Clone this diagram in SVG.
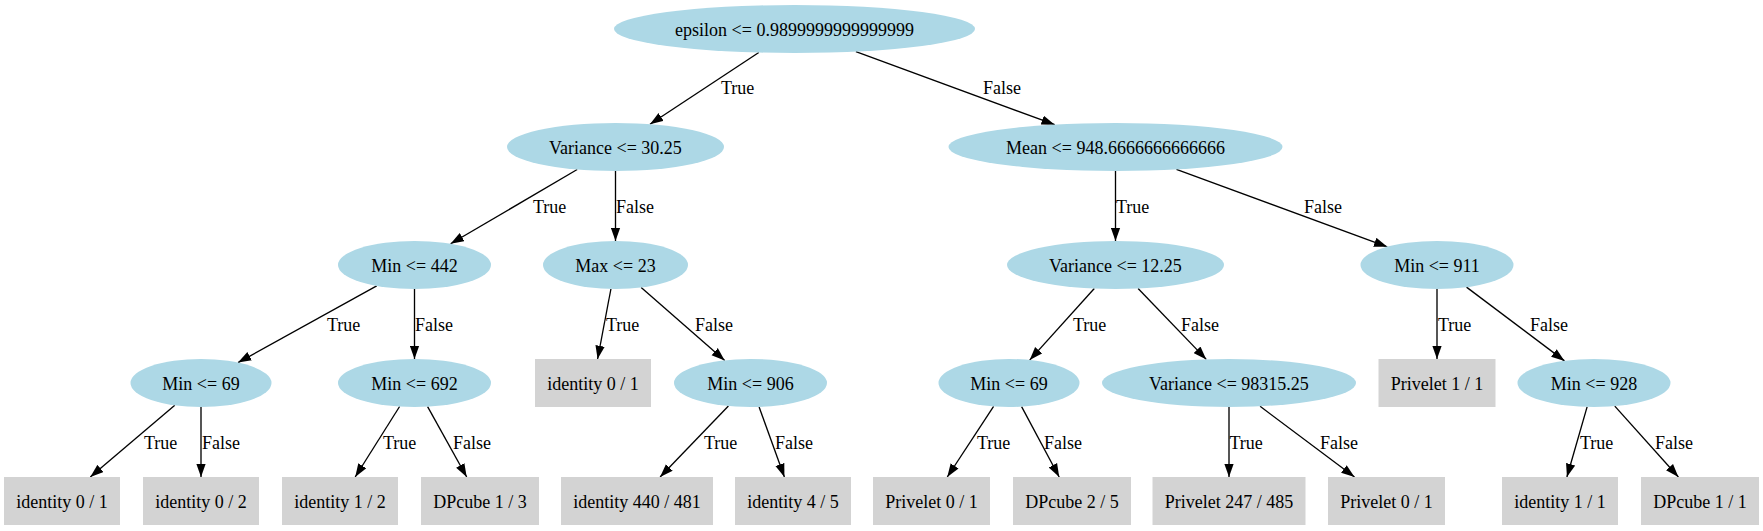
<svg xmlns="http://www.w3.org/2000/svg" width="1763" height="531" viewBox="0 0 1763 531" font-family="'Liberation Serif', 'Times New Roman', 'DejaVu Serif', serif" font-size="18">
<style>
text{font-family:'Liberation Serif','Times New Roman','DejaVu Serif',serif;font-size:18px;fill:#000}
.n text{text-anchor:middle}
.d ellipse{fill:#ADD8E6;stroke:none}
.l rect{fill:#D3D3D3;stroke:none}
#edges line{stroke:#000;stroke-width:1.33;marker-end:url(#ah)}
</style>
<defs>
<marker id="ah" markerUnits="userSpaceOnUse" markerWidth="14" markerHeight="10" viewBox="0 0 14 10" refX="13.3" refY="5" orient="auto">
<path d="M0,0.3 L13.3,5 L0,9.7 Z" fill="#000"/>
</marker>
</defs>
<rect width="1763" height="531" fill="#fff"/>
<g id="edges">
<line x1="758.8" y1="52.5" x2="650" y2="124.3"/>
<line x1="855.9" y1="51.6" x2="1054.7" y2="124.7"/>
<line x1="577.2" y1="169.5" x2="450.6" y2="243.8"/>
<line x1="615.5" y1="171" x2="615.5" y2="241"/>
<line x1="1115.5" y1="171" x2="1115.5" y2="241"/>
<line x1="1176.4" y1="169.4" x2="1387.3" y2="246.8"/>
<line x1="376.7" y1="285.9" x2="238" y2="362.6"/>
<line x1="414.5" y1="289" x2="414.5" y2="359"/>
<line x1="610.9" y1="289" x2="597.6" y2="359"/>
<line x1="641.2" y1="287.4" x2="724.7" y2="360.4"/>
<line x1="1094.3" y1="288.5" x2="1029.7" y2="360.1"/>
<line x1="1138.1" y1="288.5" x2="1206.3" y2="359.4"/>
<line x1="1437" y1="289" x2="1437" y2="359"/>
<line x1="1466.5" y1="287.1" x2="1564.5" y2="360.9"/>
<line x1="174.8" y1="405.3" x2="90.3" y2="477"/>
<line x1="201" y1="407" x2="201" y2="477"/>
<line x1="399.6" y1="406.5" x2="355.2" y2="477"/>
<line x1="427.6" y1="406.6" x2="466.7" y2="477"/>
<line x1="728.4" y1="406" x2="660.1" y2="477"/>
<line x1="759.1" y1="406.9" x2="784.4" y2="477"/>
<line x1="993.6" y1="406.4" x2="947.3" y2="477"/>
<line x1="1021.6" y1="406.6" x2="1059.2" y2="477"/>
<line x1="1229" y1="407" x2="1229" y2="477"/>
<line x1="1260.1" y1="406.3" x2="1354.5" y2="477"/>
<line x1="1587.1" y1="406.9" x2="1566.9" y2="477"/>
<line x1="1614.8" y1="406.1" x2="1678.4" y2="477"/>
<text x="721" y="94">True</text>
<text x="983" y="94">False</text>
<text x="533" y="213">True</text>
<text x="616" y="213">False</text>
<text x="1116" y="213">True</text>
<text x="1304" y="213">False</text>
<text x="327" y="331">True</text>
<text x="415" y="331">False</text>
<text x="606" y="331">True</text>
<text x="695" y="331">False</text>
<text x="1073" y="331">True</text>
<text x="1181" y="331">False</text>
<text x="1438" y="331">True</text>
<text x="1530" y="331">False</text>
<text x="144" y="449">True</text>
<text x="202" y="449">False</text>
<text x="383" y="449">True</text>
<text x="453" y="449">False</text>
<text x="704" y="449">True</text>
<text x="775" y="449">False</text>
<text x="977" y="449">True</text>
<text x="1044" y="449">False</text>
<text x="1229.5" y="449">True</text>
<text x="1320" y="449">False</text>
<text x="1580" y="449">True</text>
<text x="1655" y="449">False</text>
</g>
<g id="n0" class="n d"><ellipse cx="794.5" cy="29" rx="180.5" ry="24"/><text x="794.5" y="35.5">epsilon &lt;= 0.9899999999999999</text></g>
<g id="n1" class="n d"><ellipse cx="615.5" cy="147" rx="108.5" ry="24"/><text x="615.5" y="153.5">Variance &lt;= 30.25</text></g>
<g id="n2" class="n d"><ellipse cx="1115.5" cy="147" rx="167" ry="24"/><text x="1115.5" y="153.5">Mean &lt;= 948.6666666666666</text></g>
<g id="n3" class="n d"><ellipse cx="414.5" cy="265" rx="76.5" ry="24"/><text x="414.5" y="271.5">Min &lt;= 442</text></g>
<g id="n4" class="n d"><ellipse cx="615.5" cy="265" rx="72.5" ry="24"/><text x="615.5" y="271.5">Max &lt;= 23</text></g>
<g id="n5" class="n d"><ellipse cx="1115.5" cy="265" rx="108.5" ry="24"/><text x="1115.5" y="271.5">Variance &lt;= 12.25</text></g>
<g id="n6" class="n d"><ellipse cx="1437" cy="265" rx="76.5" ry="24"/><text x="1437" y="271.5">Min &lt;= 911</text></g>
<g id="n7" class="n d"><ellipse cx="201" cy="383" rx="70.5" ry="24"/><text x="201" y="389.5">Min &lt;= 69</text></g>
<g id="n8" class="n d"><ellipse cx="414.5" cy="383" rx="76.5" ry="24"/><text x="414.5" y="389.5">Min &lt;= 692</text></g>
<g id="n9" class="n l"><rect x="535" y="359" width="116" height="48"/><text x="593" y="389.5">identity 0 / 1</text></g>
<g id="n10" class="n d"><ellipse cx="750.5" cy="383" rx="76.5" ry="24"/><text x="750.5" y="389.5">Min &lt;= 906</text></g>
<g id="n11" class="n d"><ellipse cx="1009" cy="383" rx="70.5" ry="24"/><text x="1009" y="389.5">Min &lt;= 69</text></g>
<g id="n12" class="n d"><ellipse cx="1229" cy="383" rx="127" ry="24"/><text x="1229" y="389.5">Variance &lt;= 98315.25</text></g>
<g id="n13" class="n l"><rect x="1378.5" y="359" width="117" height="48"/><text x="1437" y="389.5">Privelet 1 / 1</text></g>
<g id="n14" class="n d"><ellipse cx="1594" cy="383" rx="76.5" ry="24"/><text x="1594" y="389.5">Min &lt;= 928</text></g>
<g id="n15" class="n l"><rect x="4" y="477" width="116" height="48"/><text x="62" y="507.5">identity 0 / 1</text></g>
<g id="n16" class="n l"><rect x="143" y="477" width="116" height="48"/><text x="201" y="507.5">identity 0 / 2</text></g>
<g id="n17" class="n l"><rect x="282" y="477" width="116" height="48"/><text x="340" y="507.5">identity 1 / 2</text></g>
<g id="n18" class="n l"><rect x="421" y="477" width="118" height="48"/><text x="480" y="507.5">DPcube 1 / 3</text></g>
<g id="n19" class="n l"><rect x="561" y="477" width="152" height="48"/><text x="637" y="507.5">identity 440 / 481</text></g>
<g id="n20" class="n l"><rect x="735" y="477" width="116" height="48"/><text x="793" y="507.5">identity 4 / 5</text></g>
<g id="n21" class="n l"><rect x="873" y="477" width="117" height="48"/><text x="931.5" y="507.5">Privelet 0 / 1</text></g>
<g id="n22" class="n l"><rect x="1013" y="477" width="118" height="48"/><text x="1072" y="507.5">DPcube 2 / 5</text></g>
<g id="n23" class="n l"><rect x="1152.5" y="477" width="153" height="48"/><text x="1229" y="507.5">Privelet 247 / 485</text></g>
<g id="n24" class="n l"><rect x="1328" y="477" width="117" height="48"/><text x="1386.5" y="507.5">Privelet 0 / 1</text></g>
<g id="n25" class="n l"><rect x="1502" y="477" width="116" height="48"/><text x="1560" y="507.5">identity 1 / 1</text></g>
<g id="n26" class="n l"><rect x="1641" y="477" width="118" height="48"/><text x="1700" y="507.5">DPcube 1 / 1</text></g>
</svg>
